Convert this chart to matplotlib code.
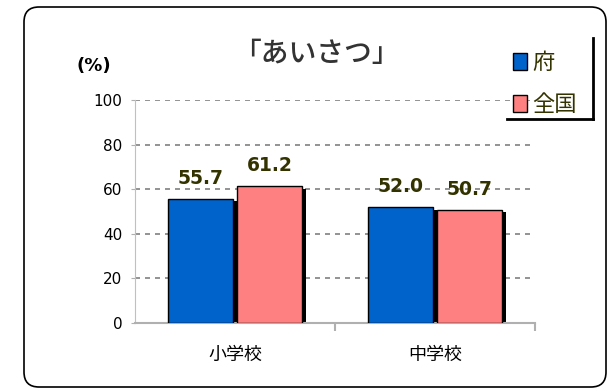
import numpy as np
import matplotlib
matplotlib.use("Agg")
import matplotlib.pyplot as plt
from matplotlib.patches import FancyBboxPatch
from matplotlib.lines import Line2D
from matplotlib.transforms import IdentityTransform

plt.rcParams['font.family'] = ['Noto Sans CJK JP', 'DejaVu Sans']

# Survey results (%)
categories = ["小学校", "中学校"]
series_names = ["府", "全国"]
fu_values = [55.7, 52.0]
zenkoku_values = [61.2, 50.7]
yticks = [0, 20, 40, 60, 80, 100]

blue = "#0063CC"
pink = "#FF8080"
label_color = "#333300"

fig = plt.figure(figsize=(6.09, 3.90), dpi=100)
W, H = 609, 390

# rounded outer frame (pixel coordinates)
frame = FancyBboxPatch((24, 3), 582, 380,
                       boxstyle="round,pad=0,rounding_size=15",
                       transform=IdentityTransform(), fill=False,
                       edgecolor="black", linewidth=1.2)
fig.patches.append(frame)

ax = fig.add_axes([135 / W, (H - 322.7) / H, 400 / W, 222.7 / H])

x = np.arange(len(categories))
width = 0.325
off = 0.172
shadow = 0.018

# drop shadows behind bars
ax.bar(x - off + shadow, np.array(fu_values) - 1.2, width, bottom=0,
       color="black", zorder=2)
ax.bar(x + off + shadow, np.array(zenkoku_values) - 1.2, width, bottom=0,
       color="black", zorder=2)

b1 = ax.bar(x - off, fu_values, width, color=blue, edgecolor="black",
            linewidth=1, zorder=3, label=series_names[0])
b2 = ax.bar(x + off, zenkoku_values, width, color=pink, edgecolor="black",
            linewidth=1, zorder=3, label=series_names[1])

for bars, vals in [(b1, fu_values), (b2, zenkoku_values)]:
    for rect, v in zip(bars, vals):
        ax.annotate(f"{v:.1f}", (rect.get_x() + rect.get_width() / 2, v),
                    xytext=(0, 8), textcoords="offset points",
                    ha="center", va="bottom", fontsize=13.5,
                    fontweight="bold", color=label_color,
                    family="DejaVu Sans", zorder=4)

ax.set_xlim(-0.5, 1.5)
ax.set_ylim(0, 100)
ax.set_yticks(yticks)
ax.set_yticklabels([str(t) for t in yticks], fontsize=11, family="DejaVu Sans")
ax.set_xticks(x)
ax.set_xticklabels(categories, fontsize=13)
ax.set_xticks([0.5, 1.5], minor=True)
ax.tick_params(axis="x", which="major", length=0, pad=17)
ax.tick_params(axis="x", which="minor", length=6, color="#B0B0B0", width=1.5)
ax.tick_params(axis="y", length=3, color="#B0B0B0", pad=6)

for t in yticks[1:]:
    ax.axhline(t, color="#808080", linewidth=1.2, dashes=(3, 3), zorder=1)

for side in ["top", "right"]:
    ax.spines[side].set_visible(False)
ax.spines["left"].set_color("#C0C0C0")
ax.spines["bottom"].set_color("#B0B0B0")
ax.spines["bottom"].set_linewidth(1.5)

fig.text(316 / W, 1 - 53 / H, "「あいさつ」", ha="center", va="center",
         fontsize=20, fontweight="medium", color="#333333")
fig.text(94 / W, 1 - 66 / H, "(%)", ha="center", va="center",
         fontsize=13, fontweight="bold", color="black", family="DejaVu Sans")

leg = ax.legend(loc="upper left", bbox_to_anchor=(509 / W, 1 - 47 / H),
                bbox_transform=fig.transFigure, fontsize=16, frameon=False,
                handlelength=0.6, handleheight=0.8, handletextpad=0.25,
                labelspacing=0.85, borderpad=0.2, borderaxespad=0)
for txt in leg.get_texts():
    txt.set_color(label_color)
leg.set_zorder(5)

# legend shadow on right and bottom edges
fig.add_artist(Line2D([593 / W, 593 / W], [1 - 38 / H, 1 - 119 / H],
                      color="black", linewidth=2, transform=fig.transFigure))
fig.add_artist(Line2D([507 / W, 593 / W], [1 - 119 / H, 1 - 119 / H],
                      color="black", linewidth=2, transform=fig.transFigure))

fig.savefig("out.png", dpi=100)
